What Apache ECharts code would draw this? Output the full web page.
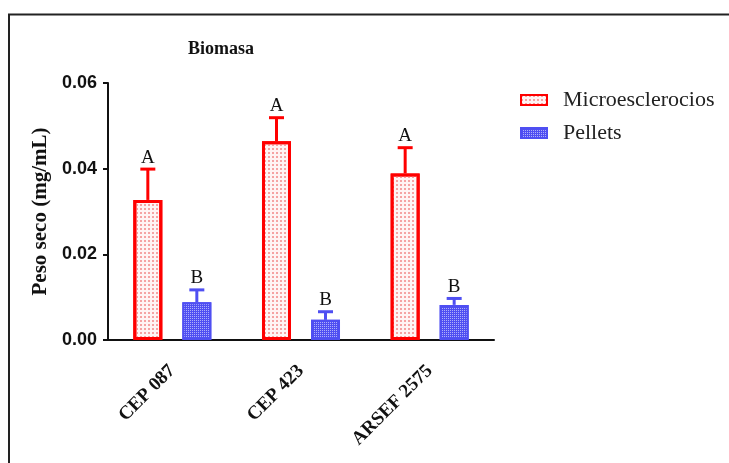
<!DOCTYPE html>
<html>
<head>
<meta charset="utf-8">
<script src="https://cdn.jsdelivr.net/npm/echarts@6/dist/echarts.min.js"></script>
<style>
  html, body { margin: 0; padding: 0; background: #fff; }
  #chart { width: 729px; height: 463px; }
</style>
</head>
<body>
<div id="chart"></div>
<script>
  // data
  var categories = ['CEP 087', 'CEP 423', 'ARSEF 2575'];
  var microMean = [0.0327, 0.0464, 0.0389];
  var microErr = [0.0072, 0.0055, 0.0060];
  var microLetters = ['A', 'A', 'A'];
  var pelletMean = [0.0088, 0.0047, 0.0082];
  var pelletErr = [0.0029, 0.0019, 0.0015];
  var pelletLetters = ['B', 'B', 'B'];
  var yTicks = [0, 0.02, 0.04, 0.06];

  var RED = '#ff0000';
  var BLUE = '#4f4ff2';
  var SERIF = '"Liberation Serif", "Times New Roman", serif';
  var barW = 29;
  var shift = 24.5; // half of bar width + gap

  function errSeries(name, means, errs, letters, color, dx) {
    var data = means.map(function (m, i) { return [i, m, errs[i], letters[i]]; });
    return {
      name: name + ' err',
      type: 'custom',
      z: 5,
      data: data,
      encode: { x: 0, y: 1 },
      renderItem: function (params, api) {
        var i = api.value(0);
        var m = api.value(1);
        var e = api.value(2);
        var base = api.coord([i, m]);
        var top = api.coord([i, m + e]);
        var x = base[0] + dx;
        return {
          type: 'group',
          children: [
            { type: 'line', shape: { x1: x, y1: base[1], x2: x, y2: top[1] },
              style: { stroke: color, lineWidth: 3 } },
            { type: 'line', shape: { x1: x - 7.5, y1: top[1], x2: x + 7.5, y2: top[1] },
              style: { stroke: color, lineWidth: 3 } },
            { type: 'text', x: x, y: top[1] - 2,
              style: { text: data[params.dataIndex][3], fill: '#111',
                font: '19px ' + SERIF, align: 'center', verticalAlign: 'bottom' } }
          ]
        };
      }
    };
  }

  var chart = echarts.init(document.getElementById('chart'));
  var option = {
    animation: false,
    backgroundColor: '#fff',
    title: {
      text: 'Biomasa',
      left: 183,
      top: 35,
      textStyle: { fontFamily: SERIF, fontWeight: 'bold', fontSize: 18, color: '#111' }
    },
    legend: {
      orient: 'vertical',
      left: 520,
      top: 89,
      padding: 0,
      itemWidth: 26,
      itemHeight: 10,
      itemGap: 11,
      icon: 'rect',
      data: ['Microesclerocios', 'Pellets'],
      textStyle: { fontFamily: SERIF, fontSize: 22, color: '#222', padding: [0, 0, 0, 11] }
    },
    grid: { left: 108, right: 235, top: 83, bottom: 123 },
    xAxis: {
      type: 'category',
      data: categories,
      axisLine: { lineStyle: { color: '#111', width: 2 } },
      axisTick: { alignWithLabel: true, length: 5, lineStyle: { color: '#111', width: 2 } },
      axisLabel: {
        rotate: 45,
        margin: 28,
        color: '#111',
        fontFamily: SERIF,
        fontWeight: 'bold',
        fontSize: 19
      }
    },
    yAxis: {
      type: 'value',
      min: 0,
      max: 0.06,
      interval: 0.02,
      name: 'Peso seco (mg/mL)',
      nameLocation: 'middle',
      nameGap: 56,
      nameTextStyle: { fontFamily: SERIF, fontWeight: 'bold', fontSize: 21, color: '#111' },
      splitLine: { show: false },
      axisLine: { show: true, lineStyle: { color: '#111', width: 2 } },
      axisTick: { show: true, length: 5, lineStyle: { color: '#111', width: 2 } },
      axisLabel: {
        color: '#111',
        fontFamily: '"Liberation Sans", Arial, sans-serif',
        fontWeight: 'bold',
        fontSize: 18,
        margin: 11,
        formatter: function (v) { return v.toFixed(2); }
      }
    },
    graphic: [
      { type: 'line', shape: { x1: 8, y1: 14.5, x2: 729, y2: 14.5 }, style: { stroke: '#222', lineWidth: 2 } },
      { type: 'line', shape: { x1: 9, y1: 14, x2: 9, y2: 463 }, style: { stroke: '#222', lineWidth: 2 } }
    ],
    series: [
      {
        name: 'Microesclerocios',
        type: 'bar',
        data: microMean,
        barWidth: barW,
        barGap: '69%',
        itemStyle: {
          color: '#fff4f4',
          borderColor: RED,
          borderWidth: 3,
          decal: { symbol: 'rect', symbolSize: 1, color: '#f5a3a3', dashArrayX: [2, 2], dashArrayY: [2, 2], rotation: 0 }
        }
      },
      {
        name: 'Pellets',
        type: 'bar',
        data: pelletMean,
        barWidth: barW,
        itemStyle: {
          color: BLUE,
          borderColor: BLUE,
          borderWidth: 2,
          decal: { symbol: 'rect', symbolSize: 1, color: 'rgba(255,255,255,0.55)', dashArrayX: [1, 1], dashArrayY: [1, 1], rotation: 0 }
        }
      },
      errSeries('Microesclerocios', microMean, microErr, microLetters, RED, -shift),
      errSeries('Pellets', pelletMean, pelletErr, pelletLetters, BLUE, shift)
    ]
  };
  chart.setOption(option);
</script>
</body>
</html>
